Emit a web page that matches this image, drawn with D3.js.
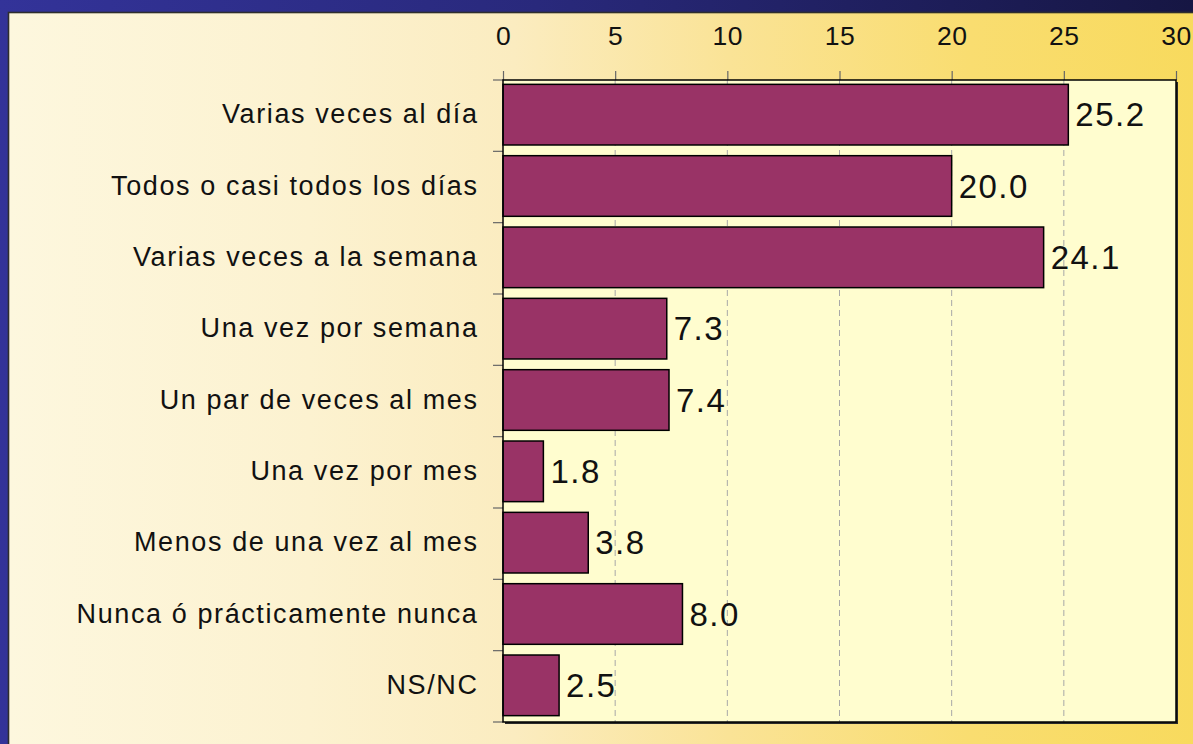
<!DOCTYPE html>
<html>
<head>
<meta charset="utf-8">
<script src="https://cdn.jsdelivr.net/npm/d3@7"></script>
<style>
  html, body { margin: 0; padding: 0; background: #333399; }
  svg { display: block; }
  text { font-family: "Liberation Sans", Arial, sans-serif; }
</style>
</head>
<body>
<svg id="chart" width="1193" height="744"></svg>
<script>
// Frequency categories (top to bottom) and their percentages
const categories = [
  "Varias veces al día",
  "Todos o casi todos los días",
  "Varias veces a la semana",
  "Una vez por semana",
  "Un par de veces al mes",
  "Una vez por mes",
  "Menos de una vez al mes",
  "Nunca ó prácticamente nunca",
  "NS/NC"
];
const values = [25.2, 20.0, 24.1, 7.3, 7.4, 1.8, 3.8, 8.0, 2.5];
const xTicks = [0, 5, 10, 15, 20, 25, 30];

const W = 1193, H = 744;
const plot = { left: 503, right: 1176, top: 80, bottom: 722 };

const svg = d3.select("#chart");
const defs = svg.append("defs");

// Blue frame gradient
const gBlue = defs.append("linearGradient").attr("id", "frame")
  .attr("x1", 0).attr("y1", 0).attr("x2", 1).attr("y2", 0);
gBlue.append("stop").attr("offset", "0%").attr("stop-color", "#333399");
gBlue.append("stop").attr("offset", "45%").attr("stop-color", "#29297c");
gBlue.append("stop").attr("offset", "100%").attr("stop-color", "#161643");

// Cream-to-gold panel gradient
const gPanel = defs.append("linearGradient").attr("id", "panel")
  .attr("x1", 0).attr("y1", 0).attr("x2", 1).attr("y2", 0);
[["0%", "#fdf7de"], ["25%", "#fcf2d0"], ["42%", "#fbecc0"], ["60%", "#fae396"],
 ["80%", "#f9dd70"], ["100%", "#f8da5c"]].forEach(([o, c]) =>
  gPanel.append("stop").attr("offset", o).attr("stop-color", c));

svg.append("rect").attr("width", W).attr("height", H).attr("fill", "url(#frame)");

// Panel with a dark edge on top and left
svg.append("rect")
  .attr("x", 8.5).attr("y", 12.5).attr("width", W + 10).attr("height", H + 10)
  .attr("fill", "url(#panel)").attr("stroke", "#2e2e2e").attr("stroke-width", 1.6);

// Scales
const x = d3.scaleLinear().domain([0, 30]).range([plot.left, plot.right]);
const y = d3.scaleBand().domain(categories).range([plot.top, plot.bottom])
  .paddingInner(0.15).paddingOuter(0.075);

// Plot area background + shadow
svg.append("rect")
  .attr("x", plot.left + 2).attr("y", plot.top + 2)
  .attr("width", plot.right - plot.left).attr("height", plot.bottom - plot.top)
  .attr("fill", "#2a2a2a");
svg.append("rect")
  .attr("x", plot.left).attr("y", plot.top)
  .attr("width", plot.right - plot.left).attr("height", plot.bottom - plot.top)
  .attr("fill", "#fffdcf");

// Dashed vertical gridlines
svg.append("g").selectAll("line")
  .data(xTicks.filter(t => t > 0 && t < 30))
  .join("line")
  .attr("x1", d => x(d)).attr("x2", d => x(d))
  .attr("y1", plot.top).attr("y2", plot.bottom)
  .attr("stroke", "#a8a8a8").attr("stroke-width", 1)
  .attr("stroke-dasharray", "6,4");

// Top axis
const xAxis = svg.append("g")
  .attr("transform", `translate(0,${plot.top})`)
  .call(d3.axisTop(x).tickValues(xTicks).tickSize(9).tickPadding(26).tickFormat(d3.format("d")));
xAxis.select(".domain").remove();
xAxis.selectAll(".tick line").attr("stroke", "#666").attr("stroke-width", 1.2);
xAxis.selectAll(".tick text")
  .attr("font-size", 26.5).attr("fill", "#111").attr("letter-spacing", "0.5px");

// Left axis ticks at band boundaries
const bounds = categories.map(c => y(c) - y.step() * y.paddingInner() / 2);
bounds.push(plot.bottom);
svg.append("g").selectAll("line").data(bounds).join("line")
  .attr("x1", plot.left - 10).attr("x2", plot.left)
  .attr("y1", d => d).attr("y2", d => d)
  .attr("stroke", "#666").attr("stroke-width", 1.2);

// Category labels
svg.append("g").selectAll("text").data(categories).join("text")
  .attr("x", plot.left - 24.5)
  .attr("y", d => y(d) + y.bandwidth() / 2 + 7.5)
  .attr("text-anchor", "end")
  .attr("font-size", 27)
  .attr("letter-spacing", "1.6px")
  .attr("fill", "#111")
  .text(d => d);

// Bars
svg.append("g").selectAll("rect").data(values).join("rect")
  .attr("x", x(0))
  .attr("y", (d, i) => y(categories[i]) - 1)
  .attr("width", d => x(d) - x(0))
  .attr("height", y.bandwidth())
  .attr("fill", "#993366")
  .attr("stroke", "#000").attr("stroke-width", 1.5);

// Value labels
svg.append("g").selectAll("text").data(values).join("text")
  .attr("x", d => x(d) + 7)
  .attr("y", (d, i) => y(categories[i]) - 1 + y.bandwidth() / 2 + 11.5)
  .attr("font-size", 33)
  .attr("letter-spacing", "1.5px")
  .attr("fill", "#111")
  .text(d => d.toFixed(1));

// Plot frame
svg.append("rect")
  .attr("x", plot.left).attr("y", plot.top)
  .attr("width", plot.right - plot.left).attr("height", plot.bottom - plot.top)
  .attr("fill", "none").attr("stroke", "#000").attr("stroke-width", 1.5);
</script>
</body>
</html>
